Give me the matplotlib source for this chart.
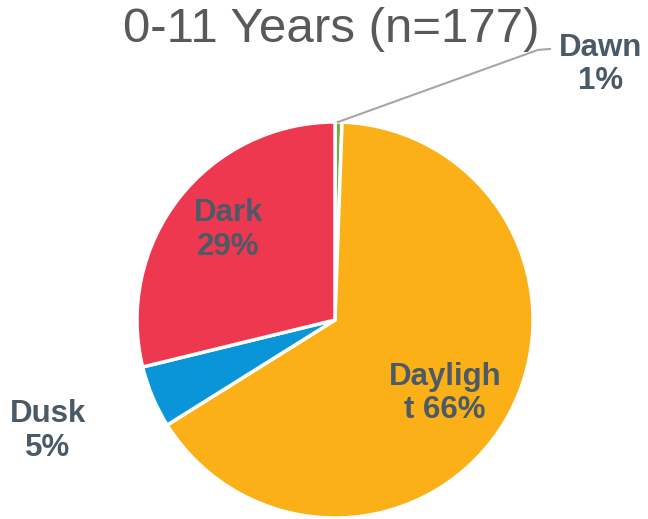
import matplotlib
matplotlib.use('Agg')
import matplotlib.pyplot as plt

plt.rcParams['font.family'] = ['Liberation Sans', 'DejaVu Sans']

labels = ['Dawn', 'Daylight', 'Dusk', 'Dark']
counts = [1, 116, 9, 51]
pct_labels = ['Dawn\n1%', 'Dayligh\nt 66%', 'Dusk\n5%', 'Dark\n29%']
colors = ['#72AE3F', '#FBB017', '#0A95D9', '#EE3850']
label_pos = [(1.34, 1.29), (0.556, -0.37), (-1.45, -0.56), (-0.54, 0.455)]

W, H = 648, 519
cx, cy, r = 335, 320, 198

fig = plt.figure(figsize=(W / 100, H / 100), dpi=100)
ax = fig.add_axes([(cx - r) / W, (H - cy - r) / H, 2 * r / W, 2 * r / H])
ax.pie(counts, colors=colors, startangle=90, counterclock=False, radius=1,
       wedgeprops=dict(edgecolor='white', linewidth=2.5))
ax.set_xlim(-1, 1); ax.set_ylim(-1, 1)
ax.set_aspect('equal')
ax.axis('off')

for txt, (x, y) in zip(pct_labels, label_pos):
    ax.text(x, y, txt, ha='center', va='center', fontsize=22.5, fontweight='bold',
            color='#4B5A67', linespacing=1.15, clip_on=False)

# leader line for the tiny Dawn slice
ax.plot([0.015, 1.025, 1.086], [1.0, 1.364, 1.369], color='#A6A6A6', lw=1.5, clip_on=False)

fig.text(331 / W, 1 - 30 / H, '0-11 Years (n=177)', ha='center', va='center',
         fontsize=35.5, color='#595959')

fig.savefig('out.png', dpi=100)
